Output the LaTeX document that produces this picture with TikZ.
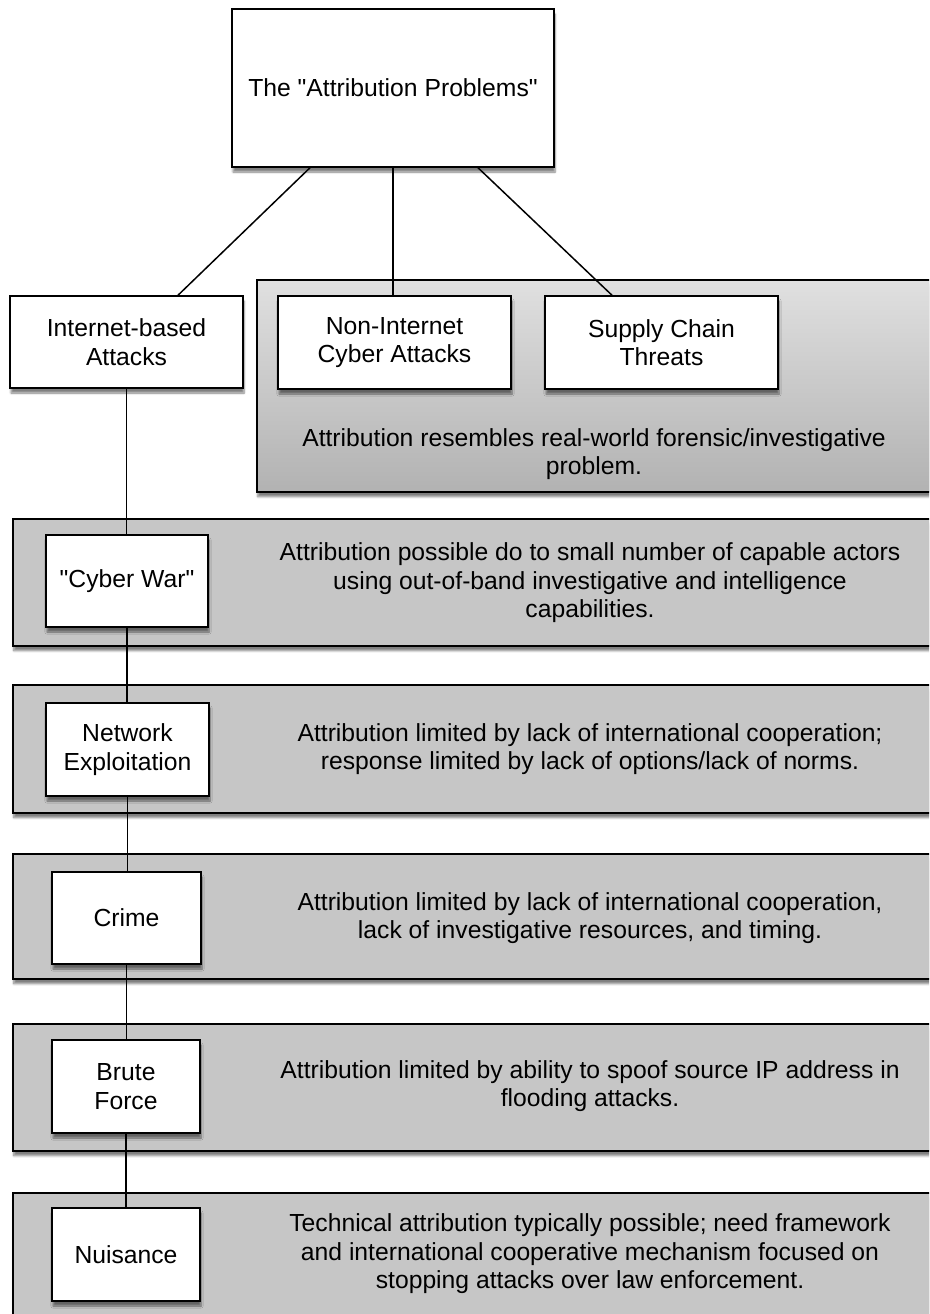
\documentclass[tikz,border=0pt]{standalone}
\usepackage{fontspec}
\setmainfont{Liberation Sans}[Ligatures=TeXOff]
\usetikzlibrary{calc,shadows.blur}
\definecolor{panelgray}{RGB}{198,198,198}
\definecolor{paneltop}{RGB}{224,224,224}
\definecolor{panelbottom}{RGB}{178,178,178}
\tikzset{
  diagram/.style={
    x=1pt, y=-1pt,
    line width=1.5pt,
    font=\fontsize{24.7}{28.5}\selectfont
  },
  soft-shadow/.style={
    blur shadow={shadow xshift=1pt, shadow yshift=-5pt, shadow blur steps=6, shadow opacity=50}
  },
  box-white/.style={draw=black, fill=white, align=center, inner sep=0pt, soft-shadow},
  panel/.style={draw=black, fill=panelgray, anchor=north west, inner sep=0pt, soft-shadow},
  panel-shade/.style={panel, top color=paneltop, bottom color=panelbottom},
  panel-text/.style={align=center, inner sep=0pt}
}

\begin{document}
\begin{tikzpicture}[diagram]
  \useasboundingbox (0,0) rectangle (929,1314);
  \clip (0,0) rectangle (929,1314);
  % Panels
  \node[panel-shade, minimum width=680, minimum height=212] (p-other) at (256,279) {};
  \node[panel, minimum width=930, minimum height=127] (p-war) at (12,518) {};
  \node[panel, minimum width=930, minimum height=128] (p-exploit) at (12,684) {};
  \node[panel, minimum width=930, minimum height=125] (p-crime) at (12,853) {};
  \node[panel, minimum width=930, minimum height=127] (p-brute) at (12,1023) {};
  \node[panel, minimum width=930, minimum height=140] (p-nuisance) at (12,1192) {};
  % Panel texts
  \node[panel-text] (t-other) at (594,454) {Attribution resembles real-world forensic/investigative\\problem.};
  \node[panel-text] (t-war) at (590,583) {Attribution possible do to small number of capable actors\\using out-of-band investigative and intelligence\\capabilities.};
  \node[panel-text] (t-exploit) at (590,749) {Attribution limited by lack of international cooperation;\\response limited by lack of options/lack of norms.};
  \node[panel-text] (t-crime) at (590,918) {Attribution limited by lack of international cooperation,\\lack of investigative resources, and timing.};
  \node[panel-text] (t-brute) at (590,1086) {Attribution limited by ability to spoof source IP address in\\flooding attacks.};
  \node[panel-text] (t-nuisance) at (590,1254) {Technical attribution typically possible; need framework\\and international cooperative mechanism focused on\\stopping attacks over law enforcement.};
  % Boxes
  \node[box-white, minimum width=322, minimum height=158] (top) at (393,88) {The "Attribution Problems"};
  \node[box-white, minimum width=233, minimum height=92] (inet) at (126.5,342) {Internet-based\\Attacks};
  \node[box-white, minimum width=233, minimum height=93] (noninet) at (394.5,342.5) {Non-Internet\\Cyber Attacks};
  \node[box-white, minimum width=233, minimum height=93] (supply) at (661.5,342.5) {Supply Chain\\Threats};
  \node[box-white, minimum width=162, minimum height=92] (war) at (127,581) {"Cyber War"};
  \node[box-white, minimum width=163, minimum height=93] (exploit) at (127.5,749.5) {Network\\Exploitation};
  \node[box-white, minimum width=149, minimum height=92] (crime) at (126.5,918) {Crime};
  \node[box-white, minimum width=148, minimum height=93] (brute) at (126,1086.5) {Brute\\Force};
  \node[box-white, minimum width=148, minimum height=93] (nuisance) at (126,1254.5) {Nuisance};
  % Connectors
  \draw ($(top.south)+(-83,0)$) -- ($(inet.north)+(51.5,0)$);
  \draw (top.south) -- (top.south |- noninet.north);
  \draw ($(top.south)+(85,0)$) -- ($(supply.north)+(-49.5,0)$);
  \foreach \a/\b in {inet/war, war/exploit, exploit/crime, crime/brute, brute/nuisance}
    \draw (\a.south) -- (\a.south |- \b.north);
\end{tikzpicture}
\end{document}
